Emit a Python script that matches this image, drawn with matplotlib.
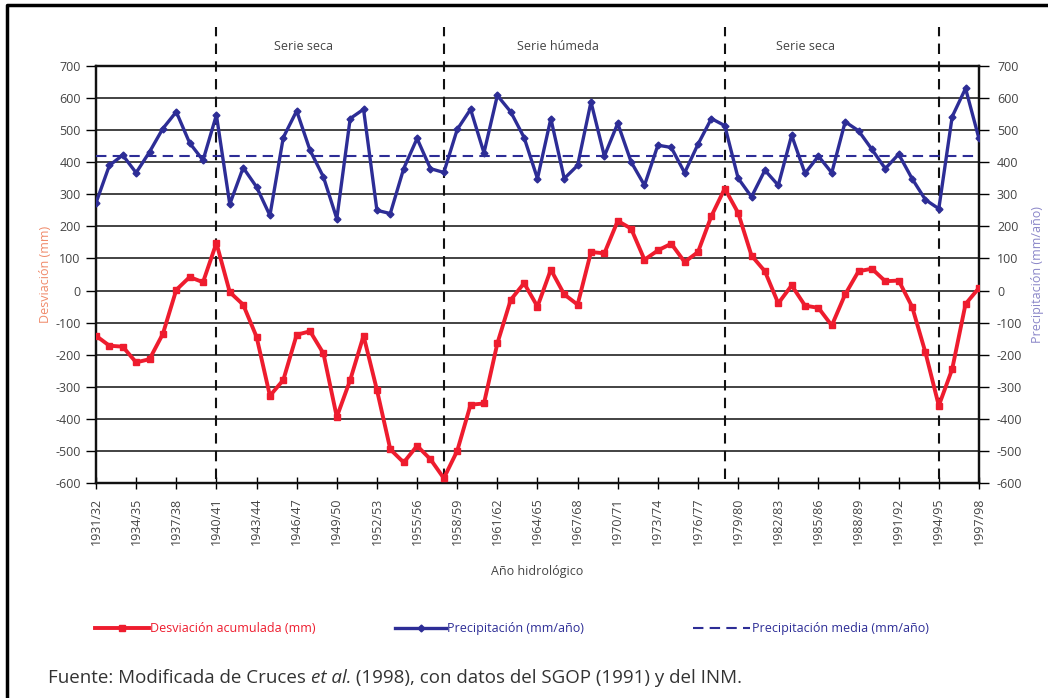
import matplotlib
matplotlib.use("Agg")
import matplotlib.pyplot as plt
from matplotlib.lines import Line2D

plt.rcParams['font.family'] = ['Open Sans', 'DejaVu Sans']

# hydrological years 1931/32 .. 1997/98
years = [f"{y}/{(y + 1) % 100:02d}" for y in range(1931, 1998)]

# cumulative deviation (mm)
desviacion = [-141, -172, -175, -224, -214, -135, 2, 42, 26, 148,
              -5, -44, -144, -328, -279, -138, -127, -196, -394, -279,
              -141, -310, -495, -536, -484, -526, -585, -500, -356, -352,
              -165, -29, 23, -50, 65, -12, -44, 120, 116, 217,
              193, 96, 125, 146, 89, 120, 232, 318, 242, 109,
              60, -40, 16, -47, -54, -109, -12, 60, 68, 29,
              31, -50, -193, -359, -245, -42, 8]

# annual precipitation (mm/año)
precipitacion = [273, 390, 422, 367, 432, 505, 557, 460, 406, 547,
                 269, 383, 323, 234, 477, 560, 437, 354, 224, 536,
                 565, 250, 240, 380, 474, 380, 368, 502, 565, 429,
                 608, 557, 477, 349, 536, 349, 390, 588, 419, 521,
                 401, 328, 453, 446, 367, 456, 536, 514, 350, 292,
                 375, 328, 484, 365, 419, 367, 526, 498, 440, 380,
                 425, 349, 283, 255, 542, 630, 474]

precip_media = 420

# limits of the dry / wet series
cortes = ["1940/41", "1957/58", "1978/79", "1994/95"]
series = [("Serie seca", "1940/41", "1957/58"),
          ("Serie húmeda", "1957/58", "1978/79"),
          ("Serie seca", "1978/79", "1994/95")]

rojo = "#ee1c2e"
azul = "#2d2d96"
gris = "#444444"

x = list(range(len(years)))

fig = plt.figure(figsize=(10.48, 6.98), dpi=100)
ax = fig.add_axes([0.0916, 0.308, 0.8425, 0.5975])

ax.set_xlim(0, len(years) - 1)
ax.set_ylim(-600, 700)
yt = list(range(-600, 701, 100))
ax.set_yticks(yt)
ax.set_yticklabels([str(v) for v in yt])
ax.grid(axis="y", color="#222222", lw=1.2)
ax.set_axisbelow(True)

ax.set_xticks(x[::3])
ax.set_xticklabels(years[::3], rotation=90, fontsize=9, color=gris)
ax.tick_params(axis="x", direction="inout", length=9, width=1, pad=6)
ax.tick_params(axis="y", direction="out", length=7, width=1, labelsize=9,
               labelcolor=gris, pad=4)
for s in ax.spines.values():
    s.set_linewidth(1.6)
    s.set_color("#111111")

ax2 = ax.twinx()
ax2.set_ylim(-600, 700)
ax2.set_yticks(yt)
ax2.set_yticklabels([str(v) for v in yt])
ax2.tick_params(axis="y", direction="out", length=7, width=1, labelsize=9,
                labelcolor=gris, pad=6)
for s in ax2.spines.values():
    s.set_linewidth(1.6)
    s.set_color("#111111")

# vertical dashed separators, sticking out above the frame
for c in cortes:
    ax.axvline(years.index(c), ymin=0.01, ymax=1.094, color="#111111",
               lw=1.5, ls=(0, (5, 3.5)), clip_on=False, zorder=3)

# series names sit a bit left of the middle of each span
for nombre, a, b in series:
    xm = (years.index(a) + years.index(b)) / 2 - 2
    ax.text(xm, 1.046, nombre, transform=ax.get_xaxis_transform(),
            ha="center", va="center", fontsize=9, color=gris)

ax2.plot([0, len(years) - 1], [precip_media, precip_media], color=azul,
         lw=1.5, ls=(0, (5, 3)), zorder=4)
ax2.plot(x, precipitacion, color=azul, lw=2.4, marker="D", ms=3.5, zorder=5)
ax2.plot(x, desviacion, color=rojo, lw=2.8, marker="s", ms=4, zorder=5)

ax.set_ylabel("Desviación (mm)", color="#f08a6a", fontsize=9, labelpad=2)
ax2.set_ylabel("Precipitación (mm/año)", color="#8a86c8", fontsize=9,
               labelpad=6)
ax.set_xlabel("Año hidrológico", fontsize=9, color=gris, labelpad=14)

# legend drawn by hand below the axes
ly = 0.1
fig.add_artist(Line2D([0.091, 0.1165, 0.142], [ly, ly, ly], color=rojo,
                      lw=2.8, marker="s", ms=4, markevery=[1],
                      transform=fig.transFigure))
fig.text(0.143, ly, "Desviación acumulada (mm)", color=rojo, fontsize=9,
         va="center")
fig.add_artist(Line2D([0.377, 0.4015, 0.426], [ly, ly, ly], color=azul,
                      lw=2.4, marker="D", ms=3.5, markevery=[1],
                      transform=fig.transFigure))
fig.text(0.427, ly, "Precipitación (mm/año)", color=azul, fontsize=9,
         va="center")
fig.add_artist(Line2D([0.661, 0.716], [ly, ly], color=azul, lw=1.5,
                      ls=(0, (5, 3)), transform=fig.transFigure))
fig.text(0.718, ly, "Precipitación media (mm/año)", color=azul, fontsize=9,
         va="center")

# source line, with "et al." in italics, placed piece by piece
piezas = [("Fuente: Modificada de Cruces ", "normal"),
          ("et al.", "italic"),
          (" (1998), con datos del SGOP (1991) y del INM.", "normal")]
renderer = fig.canvas.get_renderer()
xp = 0.046
for txt, estilo in piezas:
    t = fig.text(xp, 0.022, txt, fontsize=13.5, color="#333333",
                 style=estilo)
    bb = t.get_window_extent(renderer=renderer)
    xp += bb.width / fig.bbox.width

# page frame (left and top edges)
fig.add_artist(Line2D([0.007, 0.007, 1.0], [0.0, 0.993, 0.993],
                      color="black", lw=2.5, transform=fig.transFigure))

fig.savefig("out.png", dpi=100)
